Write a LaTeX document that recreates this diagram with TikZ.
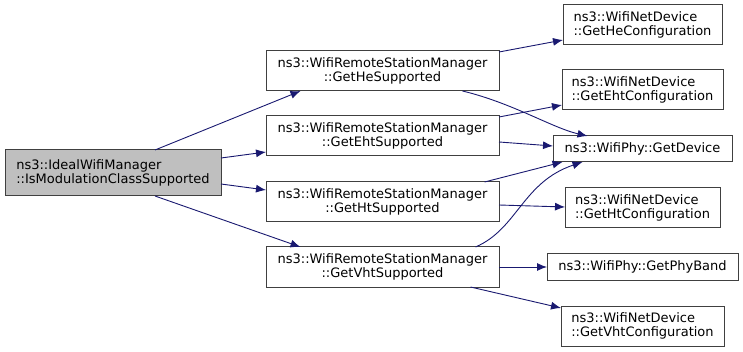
\documentclass[tikz,border=0pt]{standalone}
\usepackage{fontspec}
\setmainfont{DejaVu Sans}
\usetikzlibrary{arrows.meta,calc}
\definecolor{edgec}{HTML}{191970}
\definecolor{boxc}{HTML}{404040}
\definecolor{rootfill}{HTML}{BFBFBF}
\begin{document}
\begin{tikzpicture}[x=1pt,y=-1pt,
  fn/.style={draw=boxc,line width=1pt,fill=white,inner sep=0pt,outer sep=0pt,
    font=\fontsize{13}{14.5}\selectfont,align=center},
  fnl/.style={fn,align=left},
  call/.style={draw=edgec,line width=0.9pt,-{Latex[length=10pt,width=8pt]}}]
\useasboundingbox (0,0) rectangle (743,352);
\node[fnl,fill=rootfill,minimum width=216pt,minimum height=46pt] (root) at (113,173)
  {ns3::IdealWifiManager\\::IsModulationClassSupported};
\node[fn,minimum width=233pt,minimum height=40pt] (he) at (382.5,71)
  {ns3::WifiRemoteStationManager\\::GetHeSupported};
\node[fn,minimum width=233pt,minimum height=40pt] (eht) at (382.5,136)
  {ns3::WifiRemoteStationManager\\::GetEhtSupported};
\node[fn,minimum width=233pt,minimum height=40pt] (ht) at (382.5,202)
  {ns3::WifiRemoteStationManager\\::GetHtSupported};
\node[fn,minimum width=233pt,minimum height=40pt] (vht) at (382.5,267)
  {ns3::WifiRemoteStationManager\\::GetVhtSupported};
\node[fnl,minimum width=159pt,minimum height=40pt] (hec) at (642.5,25)
  {ns3::WifiNetDevice\\::GetHeConfiguration};
\node[fnl,minimum width=161pt,minimum height=40pt] (ehtc) at (642.5,90)
  {ns3::WifiNetDevice\\::GetEhtConfiguration};
\node[fn,minimum width=179pt,minimum height=26pt] (dev) at (642.5,149)
  {ns3::WifiPhy::GetDevice};
\node[fnl,minimum width=155pt,minimum height=40pt] (htc) at (642.5,208)
  {ns3::WifiNetDevice\\::GetHtConfiguration};
\node[fn,minimum width=191pt,minimum height=26pt] (band) at (642.5,267)
  {ns3::WifiPhy::GetPhyBand};
\node[fnl,minimum width=163pt,minimum height=40pt] (vhtc) at (642.5,326)
  {ns3::WifiNetDevice\\::GetVhtConfiguration};
% root calls
\draw[call] ([xshift=42pt]root.north) -- ([xshift=-82pt]he.south);
\draw[call] ([yshift=15pt]root.east) -- ([yshift=-16pt]eht.west);
\draw[call] ([yshift=-11pt]root.east) -- ([yshift=12pt]ht.west);
\draw[call] ([xshift=42pt]root.south) -- ([xshift=-82pt]vht.north);
% He
\draw[call] ([yshift=-1pt]he.north east) -- ([yshift=5pt]hec.south west);
\draw[call] ([xshift=80pt]he.south) .. controls ($(he.south)+(130,12)$) and ($(dev.north)+(-90,-8)$) .. ([xshift=-55pt]dev.north);
% Eht
\draw[call] ([yshift=-1pt]eht.north east) -- ([yshift=5pt]ehtc.south west);
\draw[call] ([yshift=-6pt]eht.east) -- ([yshift=3pt]dev.west);
% Ht
\draw[call] ([xshift=102pt]ht.north) -- ([xshift=-80pt]dev.south);
\draw[call] ([yshift=-3pt]ht.east) -- ([yshift=1pt]htc.west);
% Vht
\draw[call] ([xshift=93pt]vht.north) .. controls ($(vht.north)+(135,-18)$) and ($(dev.south)+(-120,20)$) .. ([xshift=-60pt]dev.south);
\draw[call] (vht.east) -- (band.west);
\draw[call] ([xshift=88pt]vht.south) -- ([yshift=-2pt]vhtc.north west);
\end{tikzpicture}
\end{document}
